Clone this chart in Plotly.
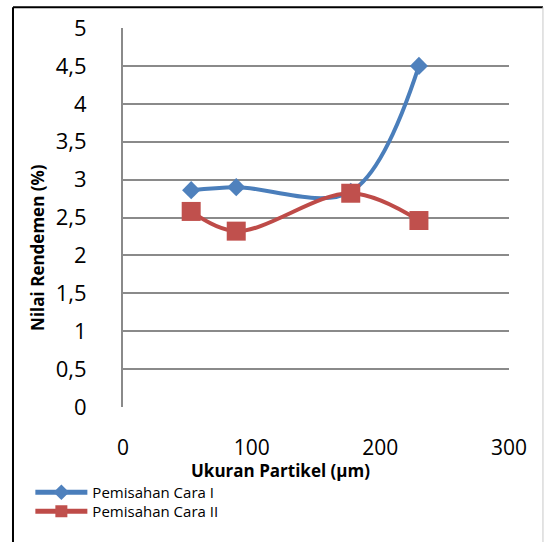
import plotly.graph_objects as go

# ---- data ----
ukuran = [53, 88, 177, 230]
cara1 = [2.86, 2.90, 2.84, 4.50]
cara2 = [2.58, 2.32, 2.82, 2.46]
nama1 = "Pemisahan Cara I"
nama2 = "Pemisahan Cara II"
y_ticks = [0, 0.5, 1, 1.5, 2, 2.5, 3, 3.5, 4, 4.5, 5]
y_labels = ["0", "0,5", "1", "1,5", "2", "2,5", "3", "3,5", "4", "4,5", "5"]
x_ticks = [0, 100, 200, 300]
x_labels = ["0", "100", "200", "300"]
x_title = "Ukuran Partikel (µm)"
y_title = "Nilai Rendemen (%)"

FONT = "Open Sans"
BLUE_L, BLUE_M = "#4A7EBB", "#4F81BD"
RED_L, RED_M = "#BE4B48", "#C0504D"
GRID = "#8A8A8A"

fig = go.Figure()
fig.add_trace(go.Scatter(
    x=ukuran, y=cara1, name=nama1, mode="lines+markers", legend="legend",
    line=dict(color=BLUE_L, width=4, shape="spline", smoothing=1),
    marker=dict(symbol="diamond", size=14, color=BLUE_M, line=dict(width=0)),
))
fig.add_trace(go.Scatter(
    x=ukuran, y=cara2, name=nama2, mode="lines+markers", legend="legend2",
    line=dict(color=RED_L, width=4, shape="spline", smoothing=1),
    marker=dict(symbol="square", size=19, color=RED_M, line=dict(width=0)),
))

legend_style = dict(
    xanchor="left", yanchor="top",
    font=dict(family=FONT, size=15, color="black"),
    bgcolor="rgba(0,0,0,0)", itemwidth=52, itemsizing="constant",
)

fig.update_layout(
    width=544, height=542,
    margin=dict(l=123, r=35, t=26, b=135),
    paper_bgcolor="white", plot_bgcolor="white",
    font=dict(family=FONT, color="black"),
    showlegend=True,
    legend=dict(x=-0.24, y=-0.182, **legend_style),
    legend2=dict(x=-0.24, y=-0.232, **legend_style),
    xaxis=dict(
        range=[0, 300], tickvals=x_ticks, ticktext=x_labels,
        showgrid=False, zeroline=False, showline=False,
        ticks="", ticklabelstandoff=26,
        tickfont=dict(family=FONT, size=21, color="black"),
        fixedrange=True,
    ),
    yaxis=dict(
        range=[0, 5], tickvals=y_ticks, ticktext=y_labels,
        showgrid=True, gridcolor=GRID, gridwidth=2,
        zeroline=False, showline=True, linecolor=GRID, linewidth=2,
        ticks="", ticklabelstandoff=30,
        tickfont=dict(family=FONT, size=22, color="black"),
        fixedrange=True,
    ),
    annotations=[
        dict(text=x_title, xref="paper", yref="paper", x=0.407, y=-0.168,
             xanchor="center", yanchor="middle", showarrow=False,
             font=dict(family=FONT, size=17, color="black", weight="bold")),
        dict(text=y_title, xref="paper", yref="paper", x=-0.22, y=0.42,
             xanchor="center", yanchor="middle", showarrow=False, textangle=-90,
             font=dict(family=FONT, size=17, color="black", weight="bold")),
    ],
    shapes=[
        dict(type="line", xref="paper", yref="paper", x0=-0.285, x1=-0.285,
             y0=-0.37, y1=1.055, line=dict(color="black", width=2)),
        dict(type="line", xref="paper", yref="paper", x0=-0.285, x1=1.088,
             y0=1.055, y1=1.055, line=dict(color="black", width=2)),
        dict(type="line", xref="paper", yref="paper", x0=1.088, x1=1.088,
             y0=-0.37, y1=1.055, line=dict(color="#C8C8C8", width=1)),
    ],
)

fig.write_html("out.html")
